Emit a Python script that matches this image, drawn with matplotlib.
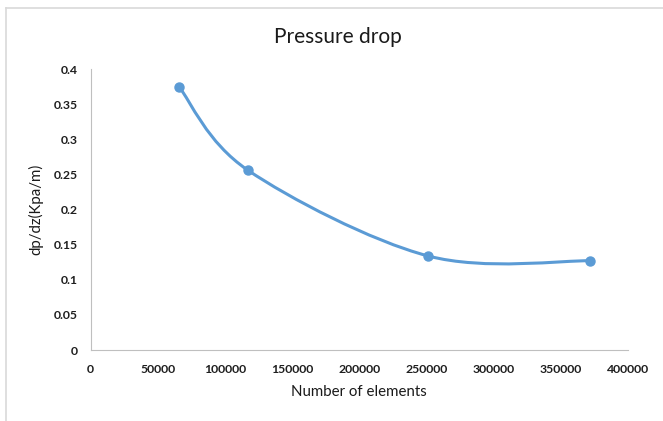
import matplotlib.pyplot as plt
from matplotlib.path import Path
from matplotlib.patches import PathPatch
from matplotlib.lines import Line2D

# mesh size vs. pressure gradient
elements = [66000, 117000, 251000, 372000]
dpdz = [0.374, 0.256, 0.134, 0.127]

x_ticks = [0, 50000, 100000, 150000, 200000, 250000, 300000, 350000, 400000]
y_ticks = [0, 0.05, 0.1, 0.15, 0.2, 0.25, 0.3, 0.35, 0.4]
y_tick_labels = ["0", "0.05", "0.1", "0.15", "0.2", "0.25", "0.3", "0.35", "0.4"]

blue = "#5B9BD5"
plt.rcParams['font.family'] = ['Lato', 'DejaVu Sans']

fig = plt.figure(figsize=(6.63, 4.21), dpi=100)
ax = fig.add_axes([0.1368, 0.1686, 0.8102, 0.6675])

# smoothed line through the points (cardinal spline as bezier segments)
pts = list(zip(elements, dpdz))
verts = [pts[0]]
codes = [Path.MOVETO]
n = len(pts)
for i in range(n - 1):
    p0 = pts[i - 1] if i > 0 else pts[i]
    p1 = pts[i]
    p2 = pts[i + 1]
    p3 = pts[i + 2] if i + 2 < n else pts[i + 1]
    c1 = (p1[0] + (p2[0] - p0[0]) / 6, p1[1] + (p2[1] - p0[1]) / 6)
    c2 = (p2[0] - (p3[0] - p1[0]) / 6, p2[1] - (p3[1] - p1[1]) / 6)
    verts += [c1, c2, p2]
    codes += [Path.CURVE4, Path.CURVE4, Path.CURVE4]
ax.add_patch(PathPatch(Path(verts, codes), facecolor='none', edgecolor=blue,
                       linewidth=2.2, capstyle='round', joinstyle='round'))
ax.plot(elements, dpdz, linestyle='none', marker='o', markersize=6.5, color=blue)

ax.set_xlim(0, 400000)
ax.set_ylim(0, 0.4)
ax.set_xticks(x_ticks)
ax.set_xticklabels([str(v) for v in x_ticks])
ax.set_yticks(y_ticks)
ax.set_yticklabels(y_tick_labels)
ax.tick_params(length=0, labelsize=8.8)
ax.tick_params(axis='x', pad=10)
ax.tick_params(axis='y', pad=9)
for lab in ax.get_xticklabels() + ax.get_yticklabels():
    lab.set_fontweight('bold')
    lab.set_color('#1f1f1f')

for side in ['top', 'right']:
    ax.spines[side].set_visible(False)
for side in ['left', 'bottom']:
    ax.spines[side].set_color('#BFBFBF')
    ax.spines[side].set_linewidth(0.8)

ax.set_xlabel("Number of elements", fontsize=10.8, color='#1a1a1a', labelpad=7)
ax.set_ylabel("dp/dz(Kpa/m)", fontsize=10.8, color='#1a1a1a', labelpad=8)
fig.text(0.509, 0.912, "Pressure drop", ha='center', va='center', fontsize=15, color='#1a1a1a')

# chart area border
fig.add_artist(Line2D([0.009, 0.009], [0.0, 0.981], transform=fig.transFigure,
                      color='#D9D9D9', linewidth=1.2))
fig.add_artist(Line2D([0.009, 1.0], [0.981, 0.981], transform=fig.transFigure,
                      color='#D9D9D9', linewidth=1.2))

fig.savefig("out.png", dpi=100)
